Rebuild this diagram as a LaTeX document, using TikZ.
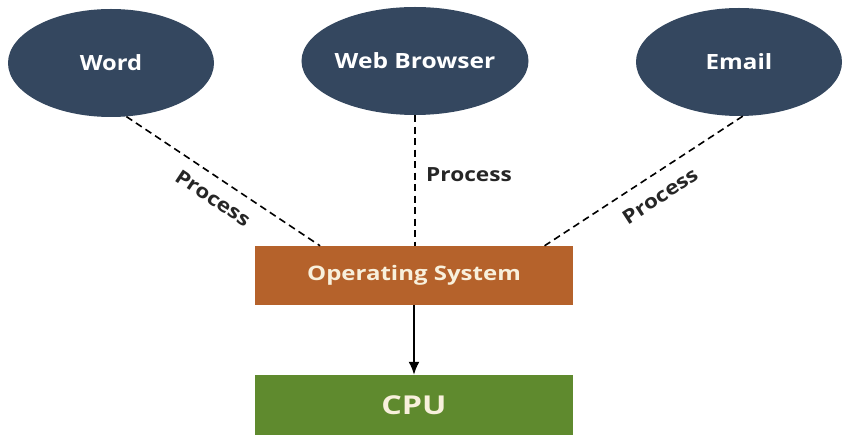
\documentclass[tikz,border=0pt]{standalone}
\usepackage{fontspec}
\setmainfont{Open Sans}
\usetikzlibrary{shapes.geometric,calc,arrows.meta}
\definecolor{navy}{HTML}{34475F}
\definecolor{osorange}{HTML}{B5622B}
\definecolor{cpugreen}{HTML}{5F8A2E}
\definecolor{cream}{HTML}{F8F0DC}
\newcommand{\widetxt}[2]{\scalebox{#1}[1]{#2}}
\tikzset{
  app/.style={ellipse, fill=navy, draw=none, minimum width=206pt, minimum height=108pt, inner sep=0pt,
    text=white, font=\bfseries\fontsize{21}{24}\selectfont},
  box/.style={rectangle, draw=none, minimum width=318pt, inner sep=0pt},
  proc/.style={dashed, dash pattern=on 7pt off 4.5pt, line width=1.6pt, black},
  plabel/.style={font=\bfseries\fontsize{19.5}{22}\selectfont, text=black!85, inner sep=0pt},
}
\begin{document}
\begin{tikzpicture}[x=1pt,y=-1pt]
\fill[white] (0,0) rectangle (844,438);
\useasboundingbox (0,0) rectangle (844,438);
\node[app] (word) at (111,63) {\widetxt{1.13}{Word}};
\node[app] (browser) at (415,61) {\widetxt{1.17}{Web Browser}};
\node[app] (email) at (739,62) {\widetxt{1.15}{Email}};
\node[box, fill=osorange, minimum height=59pt, text=cream, font=\bfseries\fontsize{20}{24}\selectfont] (os) at (414,275.5) {\widetxt{1.2}{Operating System}};
\node[box, fill=cpugreen, minimum height=60pt, text=cream, font=\bfseries\fontsize{26}{30}\selectfont] (cpu) at (414,405) {\widetxt{1.24}{CPU}};
\coordinate (osw) at ($(os.north west)!0.205!(os.north east)$);
\coordinate (ose) at ($(os.north west)!0.91!(os.north east)$);
\draw[proc] (word.-74) -- (osw);
\draw[proc] (browser.south) -- (browser.south |- os.north);
\draw[proc] (email.-86) -- (ose);
\draw[line width=1.8pt, -{Latex[length=13pt,width=11pt]}] (os.south) -- (cpu.north);
\node[plabel, rotate=-33.6] (p1) at (213,198) {\widetxt{1.16}{Process}};
\node[plabel] (p2) at (469,175) {\widetxt{1.16}{Process}};
\node[plabel, rotate=33] (p3) at (660,196) {\widetxt{1.16}{Process}};
\end{tikzpicture}
\end{document}
